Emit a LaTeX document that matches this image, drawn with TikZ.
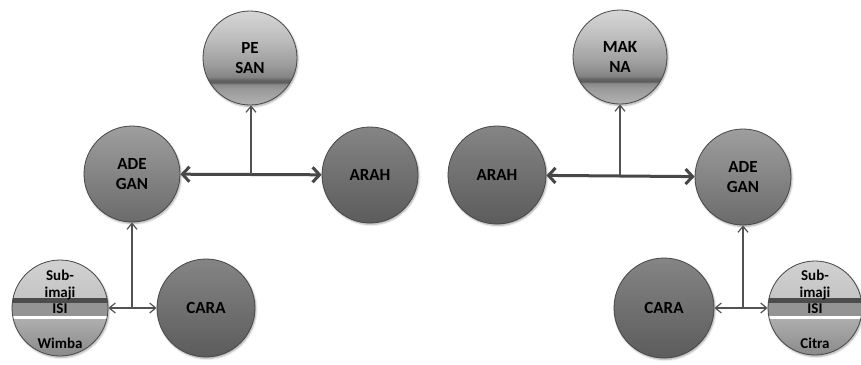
\documentclass[tikz,border=0pt]{standalone}
\usepackage{fontspec}
\setmainfont{Carlito}[BoldFont={Carlito Bold}]
\usetikzlibrary{arrows.meta,shadows.blur,calc}

% glossy light ball with a dark band below its middle
\pgfdeclareverticalshading{glassball}{100bp}{%
  color(0bp)=(black!30);
  color(25bp)=(black!30);
  color(33.5bp)=(black!40);
  color(36bp)=(black!46);
  color(37bp)=(black!64);
  color(38.5bp)=(black!60);
  color(40bp)=(black!48);
  color(47bp)=(black!38);
  color(60bp)=(black!26);
  color(75bp)=(black!16);
  color(100bp)=(black!16)}

\tikzset{
  ball/.style={circle, inner sep=0pt, minimum size=#1, draw=black!72, line width=0.8pt,
    font=\fontsize{17}{20}\selectfont\bfseries, align=center,
    blur shadow={shadow xshift=1pt, shadow yshift=-1.5pt, shadow blur steps=6, shadow opacity=35}},
  darkball/.style={ball=#1, top color=black!48, bottom color=black!64},
  midball/.style={ball=#1, top color=black!38, bottom color=black!58},
  lightball/.style={ball=#1, shade, shading=glassball},
  layerball/.style={ball=#1, fill=black!25,
    path picture={
      \shade[top color=black!18, bottom color=black!30] (path picture bounding box.north west) rectangle ([xshift=2pt,yshift=10pt]path picture bounding box.east);
      \fill[black!70] ([yshift=10pt]path picture bounding box.west) rectangle ([xshift=2pt,yshift=5.5pt]path picture bounding box.east);
      \fill[black!42] ([yshift=5.5pt]path picture bounding box.west) rectangle ([xshift=2pt,yshift=-8pt]path picture bounding box.east);
      \fill[white] ([yshift=-8pt]path picture bounding box.west) rectangle ([xshift=2pt,yshift=-11pt]path picture bounding box.east);
      \shade[top color=black!32, bottom color=black!46] ([yshift=-11pt]path picture bounding box.west) rectangle (path picture bounding box.south east);
    }},
  layertext/.style={font=\fontsize{15}{16}\selectfont\bfseries, inner sep=0pt},
  thick link/.style={draw=black!72, line width=3pt,
    {Straight Barb[length=7pt,width=15pt]}-{Straight Barb[length=7pt,width=15pt]}},
  thin link/.style={draw=black!68, line width=1.2pt},
  thin tip/.style={-{Straight Barb[length=6pt,width=10pt]}},
  thin tips/.style={{Straight Barb[length=6pt,width=10pt]}-{Straight Barb[length=6pt,width=10pt]}},
}

\begin{document}
\begin{tikzpicture}[x=1pt,y=-1pt]
\useasboundingbox (0,0) rectangle (861,364);

% ---------- left diagram ----------
\node[lightball=94pt] (pesan) at (250,58) {PE\\SAN};
\node[midball=96pt]   (adeL)  at (132,174) {ADE\\GAN};
\node[darkball=96pt]  (arahL) at (370,175) {ARAH};
\node[darkball=98pt]  (caraL) at (206,308) {CARA};
\node[layerball=96pt] (subL)  at (60,308) {};
\node[layertext] (subL1) at (60,275) {Sub-};
\node[layertext] (subL2) at (60,293) {imaji};
\node[layertext] (subL3) at (60,309) {ISI};
\node[layertext] (subL4) at (60,343) {Wimba};

\draw[thick link] (adeL) -- (arahL);
\coordinate (jL) at ($(adeL.east)!0.5!(arahL.west)$);
\draw[thin link, thin tip] (jL) -- (jL |- pesan.south);

\draw[thin link, thin tips] (subL.east) -- (caraL.west);
\coordinate (bL) at (adeL |- subL.east);
\draw[thin link, thin tip] (bL) -- (adeL.south);

% ---------- right diagram ----------
\node[lightball=94pt] (makna) at (620,57) {MAK\\NA};
\node[darkball=98pt]  (arahR) at (497,175) {ARAH};
\node[midball=96pt]   (adeR)  at (743,177) {ADE\\GAN};
\node[darkball=100pt] (caraR) at (664,308) {CARA};
\node[layerball=94pt] (subR)  at (815,308) {};
\node[layertext] (subR1) at (815,275) {Sub-};
\node[layertext] (subR2) at (815,293) {imaji};
\node[layertext] (subR3) at (815,309) {ISI};
\node[layertext] (subR4) at (815,343) {Citra};

\draw[thick link] (arahR) -- (adeR);
\coordinate (jR) at (makna |- arahR.east);
\draw[thin link, thin tip] (jR) -- (makna.south);

\draw[thin link, thin tips] (caraR.east) -- (subR.west);
\coordinate (bR) at (adeR |- subR.west);
\draw[thin link, thin tip] (bR) -- (adeR.south);
\end{tikzpicture}
\end{document}
